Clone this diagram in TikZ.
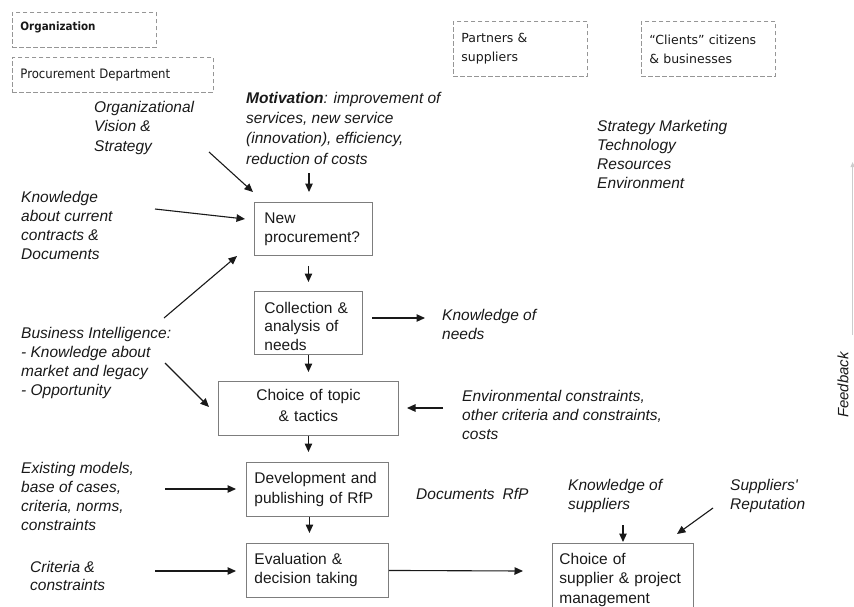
\documentclass[tikz,border=0pt]{standalone}
\usepackage{fontspec}
\setmainfont{Liberation Sans}
\newfontfamily\dvs{DejaVu Sans}
\newfontfamily\dvsc{DejaVu Sans Condensed}
\usetikzlibrary{arrows.meta}
\definecolor{boxgray}{RGB}{125,125,125}
\definecolor{dashgray}{RGB}{150,150,150}
\definecolor{inkc}{RGB}{25,25,25}
\newcommand\mainfs{\fontsize{15.5}{19.5}\selectfont}
\tikzset{
  lbl/.style={anchor=north west, inner sep=0pt, align=left, font=\mainfs\itshape, text=inkc},
  procbox/.style={draw=boxgray, line width=0.9pt, anchor=north west, inner ysep=0pt, align=left, font=\mainfs, text=inkc},
  dbox/.style={draw=dashgray, dash pattern=on 4.5pt off 2.5pt, line width=0.9pt, anchor=north west, inner xsep=8pt, inner ysep=0pt, align=left, text=inkc},
  arr/.style={draw=inkc, line width=1.1pt, -{Triangle[length=8.5pt,width=7.5pt]}},
}
\begin{document}
\begin{tikzpicture}[x=1pt,y=-1pt]
\useasboundingbox (0,0) rectangle (854,606);
% dashed header boxes
\node[dbox, minimum width=144pt, minimum height=35pt, text width=128pt, font=\dvsc\bfseries\fontsize{11.5}{12}\selectfont] (org) at (12,12) {Organization\rule[-8pt]{0pt}{0pt}};
\node[dbox, minimum width=201pt, minimum height=35pt, text width=185pt, font=\dvsc\fontsize{13}{15}\selectfont] (pdep) at (12,57) {Procurement Department};
\node[dbox, minimum width=134pt, minimum height=55pt, text width=118pt, font=\dvs\fontsize{12.5}{19}\selectfont] (part) at (453,21) {Partners \&\\suppliers};
\node[dbox, minimum width=134pt, minimum height=55pt, text width=118pt, font=\dvs\fontsize{12.5}{19}\selectfont] (cli) at (641,21) {“Clients” citizens\\\& businesses};
% free texts
\node[lbl] (vis) at (94,101) {Organizational\\Vision \&\\Strategy};
\node[lbl, font=\fontsize{15.5}{20.2}\selectfont\itshape] (mot) at (246,92) {\textbf{Motivation}: improvement of\\services, new service\\(innovation), efficiency,\\reduction of costs};
\node[lbl, font=\fontsize{15.5}{19}\selectfont\itshape] (smk) at (597,120) {Strategy Marketing\\Technology\\Resources\\Environment};
\node[lbl, font=\fontsize{15.5}{19}\selectfont\itshape] (kcc) at (21,191) {Knowledge\\about current\\contracts \&\\Documents};
\node[lbl, font=\fontsize{15.5}{19}\selectfont\itshape] (bi) at (21,327) {Business Intelligence:\\- Knowledge about\\market and legacy\\- Opportunity};
\node[lbl, font=\fontsize{15.5}{19}\selectfont\itshape] (kneeds) at (442,309) {Knowledge of\\needs};
\node[lbl, font=\fontsize{15.5}{19}\selectfont\itshape] (env) at (462,390) {Environmental constraints,\\other criteria and constraints,\\costs};
\node[lbl, font=\fontsize{15.5}{19}\selectfont\itshape] (exm) at (21,462) {Existing models,\\base of cases,\\criteria, norms,\\constraints};
\node[lbl, font=\fontsize{15.5}{18.5}\selectfont\itshape] (crit) at (30,561) {Criteria \&\\constraints};
\node[lbl] (docs) at (416,488) {Documents\hspace{8pt}RfP};
\node[lbl, font=\fontsize{15.5}{19}\selectfont\itshape] (ksup) at (568,479) {Knowledge of\\suppliers};
\node[lbl, font=\fontsize{15.5}{19}\selectfont\itshape] (rep) at (730,479) {Suppliers\textquotesingle\\Reputation};
\node[inner sep=0pt, rotate=90, font=\fontsize{15}{18}\selectfont\itshape, text=inkc] (fb) at (843,385) {Feedback};
% process boxes
\node[procbox, minimum width=118pt, minimum height=53pt, inner xsep=10pt, text width=98pt, font=\fontsize{15.5}{19}\selectfont] (npr) at (254,202) {New\\procurement?};
\node[procbox, minimum width=108pt, minimum height=63pt, inner xsep=10pt, text width=88pt, font=\fontsize{15.5}{18.5}\selectfont] (col) at (254,291) {\rule{0pt}{18pt}Collection \&\\analysis of\\needs};
\node[procbox, minimum width=180pt, minimum height=54pt, inner xsep=8pt, text width=164pt, align=center, font=\fontsize{15.5}{21}\selectfont] (top) at (218,381) {Choice of topic\\\& tactics\rule[-7pt]{0pt}{0pt}};
\node[procbox, minimum width=142pt, minimum height=54pt, inner xsep=8pt, text width=126pt, font=\fontsize{15.5}{20}\selectfont] (dev) at (246,462) {Development and\\publishing of RfP};
\node[procbox, minimum width=142pt, minimum height=54pt, inner xsep=8pt, text width=126pt, font=\fontsize{15.5}{19}\selectfont] (eval) at (246,543) {Evaluation \&\\decision taking};
\node[procbox, minimum width=141pt, minimum height=82pt, inner xsep=7pt, text width=127pt, font=\fontsize{15.5}{19.5}\selectfont] (sup) at (552,543) {Choice of\\supplier \& project\\management\rule[-13pt]{0pt}{0pt}};
% free connector ends
\coordinate (visE) at (209,152);
\coordinate (nprNW) at (253,192);
\coordinate (motE) at (309,173);
\coordinate (nprN) at (309,192);
\coordinate (kccE) at (155,209);
\coordinate (nprW) at (245,219);
\coordinate (biU) at (164,318);
\coordinate (nprSW) at (237,256);
\coordinate (biD) at (165,363);
\coordinate (topNW) at (209,407);
\coordinate (colE) at (372,318);
\coordinate (needsW) at (425,318);
\coordinate (envW) at (443,408);
\coordinate (topE) at (407,408);
\coordinate (exmE) at (165,489);
\coordinate (devW) at (236,489);
\coordinate (critE) at (155,571);
\coordinate (evalW) at (236,571);
\coordinate (supW) at (523,571);
\coordinate (ksupS) at (623,525);
\coordinate (supN) at (623,542);
\coordinate (repS) at (713,508);
\coordinate (supNE) at (677,534);
\coordinate (fbS) at (852.6,335);
\coordinate (fbN) at (852.6,162);
% connectors
\draw[arr] (visE) -- (nprNW);
\draw[arr] (motE) -- (nprN);
\draw[arr] (kccE) -- (nprW);
\draw[arr] (biU) -- (nprSW);
\draw[arr] (biD) -- (topNW);
\draw[arr, shorten <=10pt, shorten >=9pt] (npr.south -| col.north) -- (col.north);
\draw[arr] (colE) -- (needsW);
\draw[arr, shorten >=9pt] (col.south) -- (top.north);
\draw[arr] (envW) -- (topE);
\draw[arr, shorten >=10pt] (top.south) -- (top.south |- dev.north);
\draw[arr, shorten >=10pt] ([xshift=-8pt]dev.south) -- ([xshift=-8pt]eval.north);
\draw[arr] (exmE) -- (devW);
\draw[arr] (critE) -- (evalW);
\draw[arr] (eval.east) -- (supW);
\draw[arr] (ksupS) -- (supN);
\draw[arr] (repS) -- (supNE);
\draw[draw=black!20, line width=0.8pt, -{Triangle[length=5pt,width=4pt]}] (fbS) -- (fbN);
\end{tikzpicture}
\end{document}
